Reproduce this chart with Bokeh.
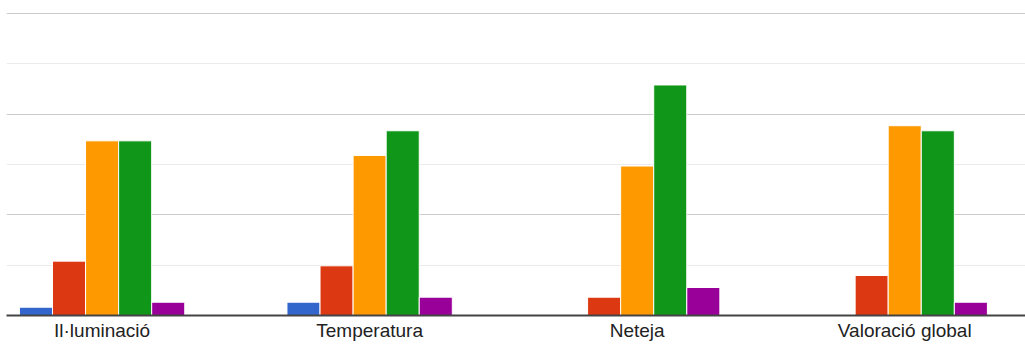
from bokeh.plotting import figure
from bokeh.models import ColumnDataSource, FixedTicker, Range1d
from bokeh.transform import dodge
from bokeh.embed import file_html
from bokeh.resources import INLINE

# ---- data ----
categories = ["Il·luminació", "Temperatura", "Neteja", "Valoració global"]
cat_index = [0, 1, 2, 3]
series_1 = [1.65, 2.64, 0.0, 0.0]
series_2 = [10.8, 9.87, 3.64, 7.95]
series_3 = [34.7, 31.8, 29.7, 37.7]
series_4 = [34.7, 36.7, 45.8, 36.7]
series_5 = [2.64, 3.64, 5.56, 2.64]
series_all = [series_1, series_2, series_3, series_4, series_5]
colors = ["#3366cc", "#dc3912", "#ff9900", "#109618", "#990099"]
y_major = [20, 40, 60]
y_minor = [10, 30, 50]

# ---- layout ----
group_frac = 0.618
bar_w = group_frac / len(series_all)

p = figure(width=1025, height=344, output_backend="svg", toolbar_location=None,
           x_range=Range1d(-0.3573, 3.4514), y_range=Range1d(0, 60.99),
           min_border_left=6, min_border_right=0, min_border_top=8,
           min_border_bottom=29)
p.outline_line_color = None
p.background_fill_color = "white"
p.border_fill_color = "white"

src = ColumnDataSource(dict(x=cat_index, **{f"s{i}": s for i, s in enumerate(series_all)}))
for i, c in enumerate(colors):
    off = (i - (len(series_all) - 1) / 2) * bar_w
    p.vbar(x=dodge("x", off), top=f"s{i}", bottom=0, width=bar_w, source=src,
           fill_color=c, line_color="white", line_width=1)

p.yaxis.visible = False
p.xgrid.visible = False
p.ygrid.ticker = FixedTicker(ticks=y_major, minor_ticks=y_minor)
p.ygrid.grid_line_color = "#cccccc"
p.ygrid.grid_line_width = 1
p.ygrid.minor_grid_line_color = "#ebebeb"
p.ygrid.minor_grid_line_width = 1

ax = p.xaxis[0]
ax.ticker = FixedTicker(ticks=cat_index)
ax.major_label_overrides = {i: c for i, c in zip(cat_index, categories)}
ax.major_tick_out = 0
ax.major_tick_in = 0
ax.minor_tick_out = 0
ax.minor_tick_in = 0
ax.axis_line_color = "#444444"
ax.axis_line_width = 2
ax.major_label_standoff = 4
ax.major_label_text_font = "Liberation Sans"
ax.major_label_text_font_size = "19px"
ax.major_label_text_color = "#222222"

open("out.html", "w").write(file_html(p, INLINE))
